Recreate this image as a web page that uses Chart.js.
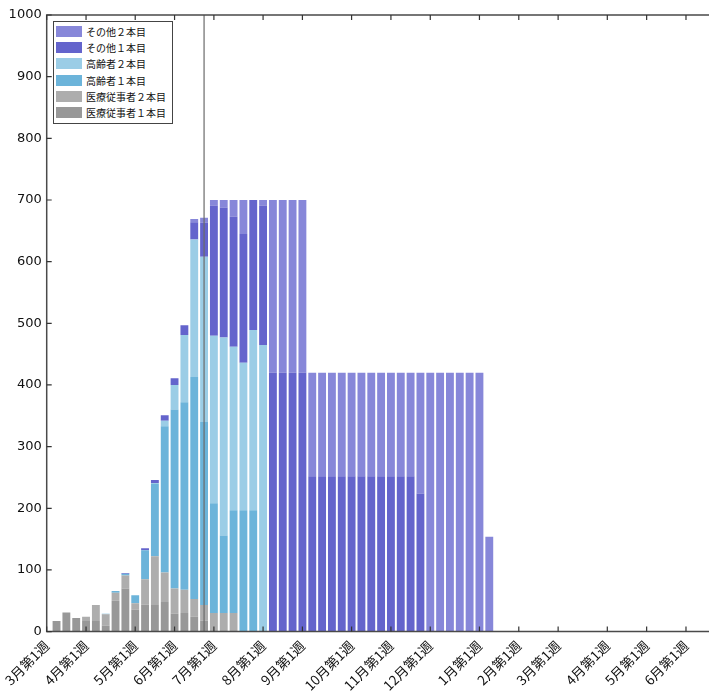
<!DOCTYPE html>
<html lang="ja">
<head>
  <meta charset="UTF-8">
  <title>ワクチン接種回数（週別）</title>
  <script src="https://cdn.jsdelivr.net/npm/chart.js"></script>
  <style>
    * { margin: 0; padding: 0; box-sizing: border-box; }
    body { background: #fff; width: 709px; height: 698px; overflow: hidden; }
    .wrap { position: relative; width: 709px; height: 698px; }
    /* 凡例（左上の枠付き） */
    #legend {
      position: absolute; left: 53px; top: 21px;
      width: 120px; height: 103px;
      border: 1.5px solid #444; background: #fff;
      padding: 1px 0 0 2px;
      font: 10px 'Noto Sans CJK JP', sans-serif; color: #111;
    }
    #legend .row { display: flex; align-items: center; height: 16.3px; white-space: nowrap; }
    #legend .sw { width: 26px; height: 11px; margin-right: 4px; flex: none; }
  </style>
</head>
<body>
  <div class="wrap">
    <canvas id="vaccChart" width="709" height="698"></canvas>
    <div id="legend"></div>
  </div>

  <script>
    // 週番号（3月第1週 = 0）
    const weeks = [1, 2, 3, 4, 5, 6, 7, 8, 9, 10,
                   11, 12, 13, 14, 15, 16, 17, 18, 19, 20,
                   21, 22, 23, 24, 25, 26, 27, 28, 29, 30,
                   31, 32, 33, 34, 35, 36, 37, 38, 39, 40,
                   41, 42, 43, 44, 45];

    // 目盛り（各月の第1週）
    const monthTicks  = [0, 4, 9, 13, 17, 22, 26, 31, 35, 39, 44, 48, 52, 57, 61, 65];
    const monthLabels = ['3月第1週', '4月第1週', '5月第1週', '6月第1週', '7月第1週', '8月第1週',
                         '9月第1週', '10月第1週', '11月第1週', '12月第1週', '1月第1週', '2月第1週',
                         '3月第1週', '4月第1週', '5月第1週', '6月第1週'];
    const nowWeek = 16;

    // 接種回数（万回）
    const iryo1 = [17, 31, 22, 17, 17, 10, 50, 70, 36, 44,
                   43, 48, 29, 30, 24, 18, 0, 0, 0, 0,
                   0, 0, 0, 0, 0, 0, 0, 0, 0, 0,
                   0, 0, 0, 0, 0, 0, 0, 0, 0, 0,
                   0, 0, 0, 0, 0];
    const iryo2 = [0, 0, 0, 7, 26, 18, 13, 21, 10, 41,
                   79, 48, 41, 38, 29, 25, 30, 30, 30, 0,
                   0, 0, 0, 0, 0, 0, 0, 0, 0, 0,
                   0, 0, 0, 0, 0, 0, 0, 0, 0, 0,
                   0, 0, 0, 0, 0];
    const koreisha1 = [0, 0, 0, 0, 0, 1, 3, 3, 13, 47,
                       118, 237, 290, 304, 360, 297, 178, 126, 167, 197,
                       197, 0, 0, 0, 0, 0, 0, 0, 0, 0,
                       0, 0, 0, 0, 0, 0, 0, 0, 0, 0,
                       0, 0, 0, 0, 0];
    const koreisha2 = [0, 0, 0, 0, 0, 0, 0, 0, 0, 0,
                       1, 9, 40, 109, 223, 268, 272, 321, 265, 239,
                       292, 465, 0, 0, 0, 0, 0, 0, 0, 0,
                       0, 0, 0, 0, 0, 0, 0, 0, 0, 0,
                       0, 0, 0, 0, 0];
    const sonota1 = [0, 0, 0, 0, 0, 0, 0, 1, 0, 3,
                     5, 9, 11, 16, 28, 55, 211, 211, 211, 209,
                     211, 226, 420, 420, 420, 420, 252, 252, 252, 252,
                     252, 252, 252, 252, 252, 252, 252, 224, 0, 0,
                     0, 0, 0, 0, 0];
    const sonota2 = [0, 0, 0, 0, 0, 0, 0, 0, 0, 0,
                     0, 0, 0, 0, 5, 8, 9, 12, 27, 55,
                     0, 9, 280, 280, 280, 280, 168, 168, 168, 168,
                     168, 168, 168, 168, 168, 168, 168, 196, 420, 420,
                     420, 420, 420, 420, 154];

    const FONT = "'Noto Sans CJK JP', sans-serif";
    Chart.defaults.font.family = FONT;

    const bar = (label, data, color) => ({
      label, data, backgroundColor: color, borderWidth: 0,
      barPercentage: 0.8, categoryPercentage: 1.0
    });

    // 枠・内向き目盛り・現在週の縦線
    const framePlugin = {
      id: 'frame',
      afterDatasetsDraw(chart) {
        const { ctx, chartArea: a, scales: { x, y } } = chart;
        ctx.save();
        const px = x.getPixelForValue(nowWeek);
        ctx.strokeStyle = '#6a6a6a';
        ctx.lineWidth = 1.2;
        ctx.beginPath();
        ctx.moveTo(px, a.top); ctx.lineTo(px, a.bottom);
        ctx.stroke();

        ctx.strokeStyle = '#4a4a4a';
        ctx.lineWidth = 1.5;
        ctx.beginPath();
        ctx.moveTo(a.right, a.top); ctx.lineTo(a.left, a.top);
        ctx.lineTo(a.left, a.bottom); ctx.lineTo(a.right, a.bottom);
        ctx.stroke();

        ctx.strokeStyle = '#333';
        ctx.lineWidth = 1.2;
        ctx.beginPath();
        monthTicks.forEach(v => {
          const p = x.getPixelForValue(v);
          ctx.moveTo(p, a.bottom); ctx.lineTo(p, a.bottom - 5);
          ctx.moveTo(p, a.top); ctx.lineTo(p, a.top + 5);
        });
        y.ticks.forEach(t => {
          const p = y.getPixelForValue(t.value);
          ctx.moveTo(a.left, p); ctx.lineTo(a.left + 5, p);
        });
        ctx.stroke();
        ctx.restore();
      }
    };

    // HTML凡例（上から その他２本目 → 医療従事者１本目）
    const htmlLegend = {
      id: 'htmlLegend',
      afterUpdate(chart) {
        const box = document.getElementById('legend');
        box.innerHTML = '';
        chart.data.datasets.slice().reverse().forEach(ds => {
          const row = document.createElement('div');
          row.className = 'row';
          const sw = document.createElement('span');
          sw.className = 'sw';
          sw.style.background = ds.backgroundColor;
          const txt = document.createElement('span');
          txt.textContent = ds.label;
          row.appendChild(sw);
          row.appendChild(txt);
          box.appendChild(row);
        });
      }
    };

    const ctx = document.getElementById('vaccChart').getContext('2d');
    new Chart(ctx, {
      type: 'bar',
      data: {
        labels: weeks,
        datasets: [
          bar('医療従事者１本目', iryo1, '#989898'),
          bar('医療従事者２本目', iryo2, '#adadad'),
          bar('高齢者１本目', koreisha1, '#6cb4da'),
          bar('高齢者２本目', koreisha2, '#9bcde6'),
          bar('その他１本目', sonota1, '#6464cc'),
          bar('その他２本目', sonota2, '#8787d9')
        ]
      },
      options: {
        responsive: false,
        animation: false,
        layout: { padding: { top: 15, right: 0, left: 0, bottom: 0 } },
        scales: {
          x: {
            type: 'linear',
            stacked: true,
            offset: false,
            min: 0,
            max: 67.34,
            afterBuildTicks: s => { s.ticks = monthTicks.map(v => ({ value: v })); },
            afterFit: s => { s.height = 66.4; s.paddingLeft = 0; s.paddingRight = 0; },
            ticks: {
              autoSkip: false,
              minRotation: 45,
              maxRotation: 45,
              padding: 6,
              color: '#111',
              font: { size: 13.5 },
              callback: (v, i) => monthLabels[i]
            },
            grid: { display: false, drawTicks: false, offset: false },
            border: { display: false }
          },
          y: {
            stacked: true,
            min: 0,
            max: 1000,
            afterFit: s => { s.width = 46.7; },
            ticks: {
              stepSize: 100, padding: 5, color: '#111',
              font: { family: "'DejaVu Sans', sans-serif", size: 13 },
              callback: v => String(v)
            },
            grid: { display: false, drawTicks: false },
            border: { display: false }
          }
        },
        plugins: {
          legend: { display: false },
          tooltip: { enabled: false }
        }
      },
      plugins: [framePlugin, htmlLegend]
    });
  </script>
</body>
</html>
